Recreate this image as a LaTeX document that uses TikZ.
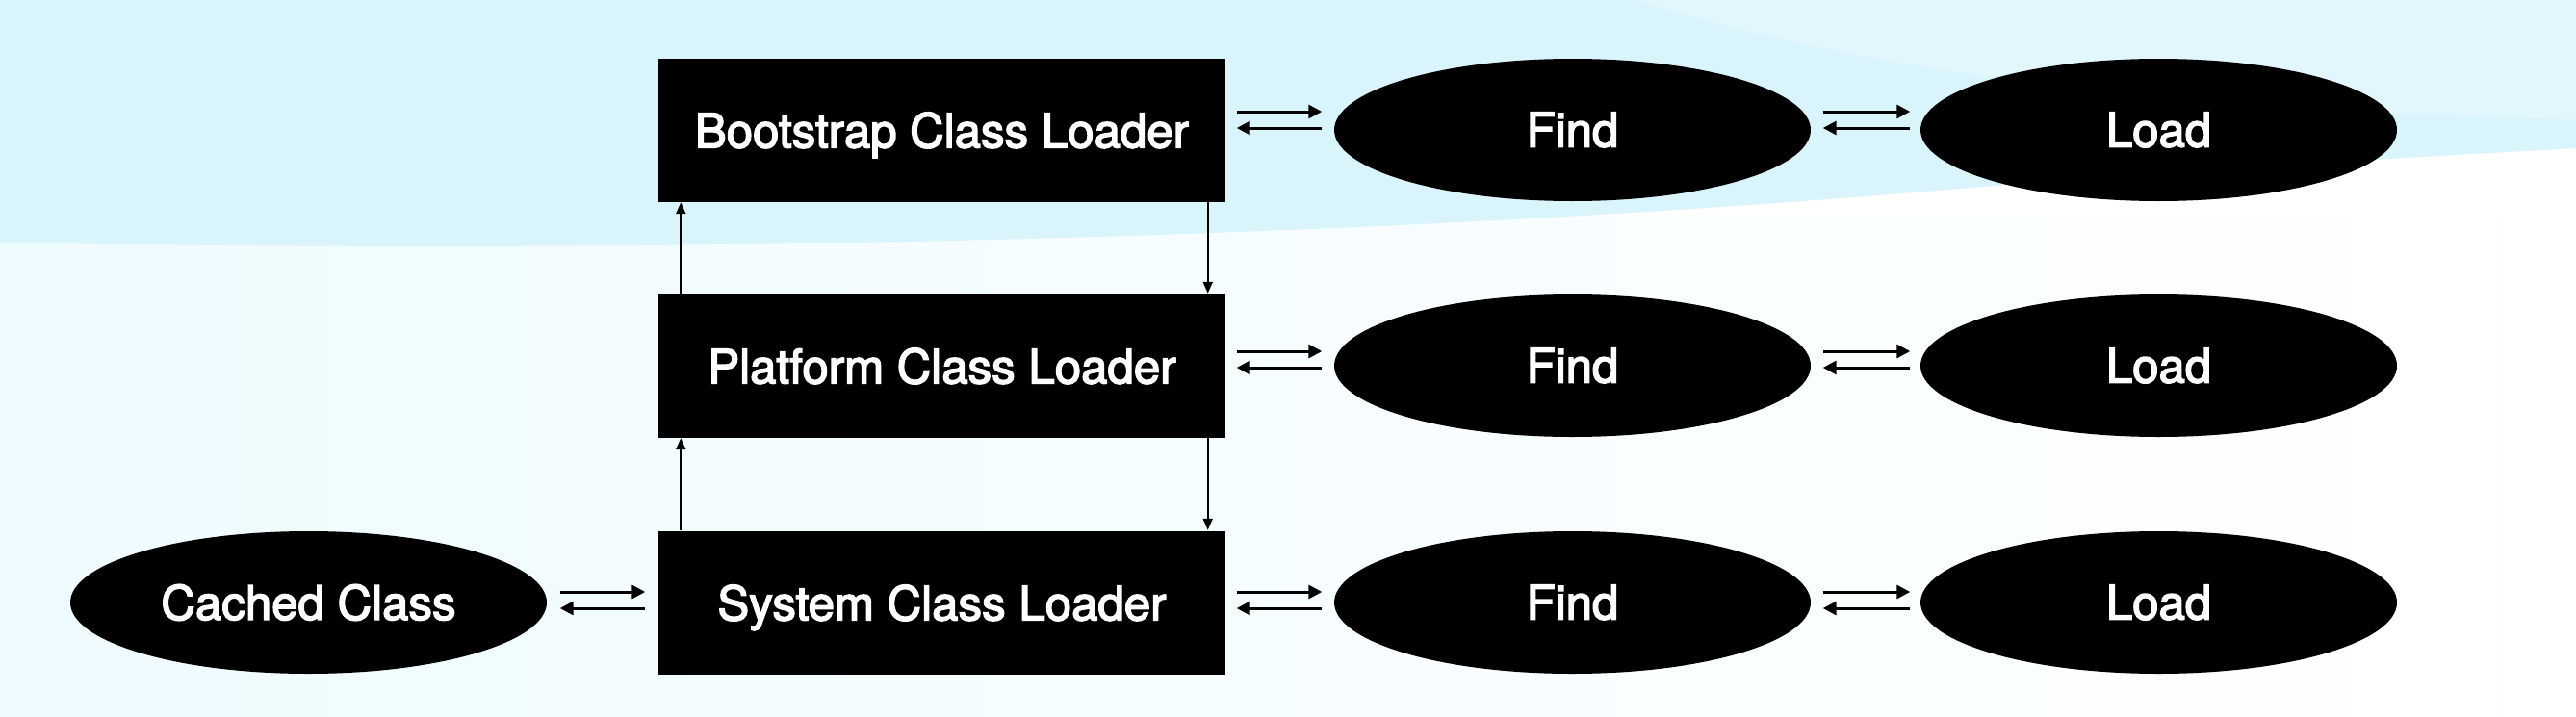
\documentclass[tikz,border=0pt]{standalone}
\usepackage{fontspec}
\setmainfont{TeX Gyre Heros}
\newfontfamily\boxfont{TeX Gyre Heros}[FakeBold=3]
\usetikzlibrary{shapes.geometric,arrows.meta}
\definecolor{bandblue}{RGB}{218,244,252}
\definecolor{bandlight}{RGB}{226,247,253}
\definecolor{lowcyan}{RGB}{238,251,254}
\tikzset{
  loader/.style={fill=black,text=white,minimum width=5.89cm,minimum height=1.49cm,inner sep=0pt,text depth=0pt,font=\boxfont\fontsize{14}{16}\selectfont},
  stage/.style={ellipse,fill=black,text=white,minimum width=4.95cm,minimum height=1.48cm,inner sep=0pt,font=\boxfont\fontsize{14}{16}\selectfont},
  flow/.style={line width=0.03cm,-{Triangle[length=0.14cm,width=0.14cm]}},
  delegate/.style={line width=0.02cm,-{Triangle[length=0.12cm,width=0.1cm]}}
}
\begin{document}
\begin{tikzpicture}
\useasboundingbox (0,0) rectangle (26.76,7.44);
% background
\fill[white] (0,0) rectangle (26.76,7.44);
\shade[left color=lowcyan,right color=white] (0,0) rectangle (26.76,5.2);
\fill[bandblue] (0,7.44) -- (0,4.92) .. controls (7,4.8) and (14,4.95) .. (20,5.45) .. controls (23,5.7) and (25,5.8) .. (26.76,5.9) -- (26.76,7.44) -- cycle;
\fill[bandlight] (17,7.44) .. controls (19,6.8) and (22,6.3) .. (26.76,6.2) -- (26.76,7.44) -- cycle;
%\draw[red] (0,0) rectangle (26.76,7.44);
\node[loader] (boot) at (9.785,6.09) {Bootstrap Class Loader};
\node[loader] (plat) at (9.785,3.64) {Platform Class Loader};
\node[loader] (sys) at (9.785,1.18) {System Class Loader};
\node[stage] (bfind) at (16.335,6.09) {Find};
\node[stage] (bload) at (22.425,6.09) {Load};
\node[stage] (pfind) at (16.335,3.64) {Find};
\node[stage] (pload) at (22.425,3.64) {Load};
\node[stage] (sfind) at (16.335,1.18) {Find};
\node[stage] (sload) at (22.425,1.18) {Load};
\node[stage] (cache) at (3.205,1.18) {Cached Class};
% delegation between loaders
\draw[delegate] ([xshift=0.24cm]plat.north west) -- ([xshift=0.24cm]boot.south west);
\draw[delegate] ([xshift=0.24cm]sys.north west) -- ([xshift=0.24cm]plat.south west);
\draw[delegate] ([xshift=-0.19cm]boot.south east) -- ([xshift=-0.19cm]plat.north east);
\draw[delegate] ([xshift=-0.19cm]plat.south east) -- ([xshift=-0.19cm]sys.north east);
% bootstrap row
\draw[flow] ([xshift=0.11cm,yshift=0.19cm]boot.east) -- ([xshift=-0.12cm,yshift=0.19cm]bfind.west);
\draw[flow] ([xshift=-0.12cm,yshift=0.02cm]bfind.west) -- ([xshift=0.11cm,yshift=0.02cm]boot.east);
\draw[flow] ([xshift=0.12cm,yshift=0.19cm]bfind.east) -- ([xshift=-0.1cm,yshift=0.19cm]bload.west);
\draw[flow] ([xshift=-0.1cm,yshift=0.02cm]bload.west) -- ([xshift=0.12cm,yshift=0.02cm]bfind.east);
% platform row
\draw[flow] ([xshift=0.11cm,yshift=0.15cm]plat.east) -- ([xshift=-0.12cm,yshift=0.15cm]pfind.west);
\draw[flow] ([xshift=-0.12cm,yshift=-0.02cm]pfind.west) -- ([xshift=0.11cm,yshift=-0.02cm]plat.east);
\draw[flow] ([xshift=0.12cm,yshift=0.15cm]pfind.east) -- ([xshift=-0.1cm,yshift=0.15cm]pload.west);
\draw[flow] ([xshift=-0.1cm,yshift=-0.02cm]pload.west) -- ([xshift=0.12cm,yshift=-0.02cm]pfind.east);
% system row
\draw[flow] ([xshift=0.13cm,yshift=0.11cm]cache.east) -- ([xshift=-0.13cm,yshift=0.11cm]sys.west);
\draw[flow] ([xshift=-0.13cm,yshift=-0.06cm]sys.west) -- ([xshift=0.13cm,yshift=-0.06cm]cache.east);
\draw[flow] ([xshift=0.11cm,yshift=0.11cm]sys.east) -- ([xshift=-0.12cm,yshift=0.11cm]sfind.west);
\draw[flow] ([xshift=-0.12cm,yshift=-0.06cm]sfind.west) -- ([xshift=0.11cm,yshift=-0.06cm]sys.east);
\draw[flow] ([xshift=0.12cm,yshift=0.11cm]sfind.east) -- ([xshift=-0.1cm,yshift=0.11cm]sload.west);
\draw[flow] ([xshift=-0.1cm,yshift=-0.06cm]sload.west) -- ([xshift=0.12cm,yshift=-0.06cm]sfind.east);
\end{tikzpicture}
\end{document}
